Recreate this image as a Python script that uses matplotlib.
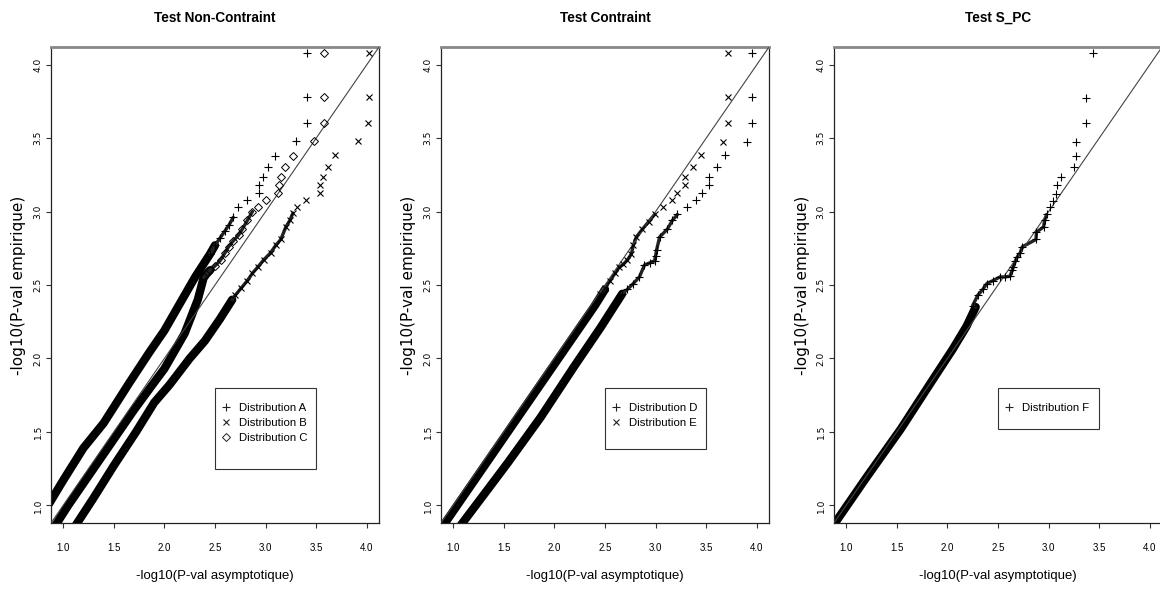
import matplotlib
matplotlib.use('Agg')
import matplotlib.pyplot as plt
from matplotlib import font_manager
from matplotlib.patches import Rectangle
from matplotlib.lines import Line2D

# ---------------- data ----------------
titles = ["Test Non-Contraint", "Test Contraint", "Test S_PC"]
x_label = "-log10(P-val asymptotique)"
y_label = "-log10(P-val empirique)"
tick_values = [1.0, 1.5, 2.0, 2.5, 3.0, 3.5, 4.0]
tick_labels = ["1.0", "1.5", "2.0", "2.5", "3.0", "3.5", "4.0"]

# Panel 1 -- Distribution A (+), upper band
a_band_x = [0.86, 1.00, 1.20, 1.40, 1.65, 1.85, 2.00, 2.15, 2.30, 2.45, 2.50]
a_band_y = [1.01, 1.17, 1.39, 1.56, 1.83, 2.04, 2.19, 2.37, 2.55, 2.71, 2.77]
a_pts_x = [2.45, 2.50, 2.55, 2.60, 2.64, 2.68, 2.73, 2.82, 2.93, 2.93, 2.97, 3.02, 3.09, 3.30, 3.41, 3.41, 3.41]
a_pts_y = [2.71, 2.77, 2.82, 2.87, 2.91, 2.96, 3.03, 3.08, 3.125, 3.18, 3.235, 3.30, 3.38, 3.48, 3.60, 3.78, 4.08]

# Panel 1 -- Distribution B (x), lower band
b_band_x = [1.12, 1.30, 1.50, 1.72, 1.90, 2.05, 2.25, 2.40, 2.55, 2.67]
b_band_y = [0.86, 1.05, 1.27, 1.50, 1.70, 1.82, 2.00, 2.12, 2.27, 2.40]
b_pts_x = [2.70, 2.76, 2.82, 2.87, 2.92, 2.98, 3.05, 3.10, 3.15, 3.20, 3.24, 3.27, 3.31, 3.40,
           3.54, 3.54, 3.565, 3.615, 3.685, 3.91, 4.01, 4.02, 4.02]
b_pts_y = [2.43, 2.48, 2.53, 2.58, 2.62, 2.67, 2.72, 2.77, 2.81, 2.895, 2.94, 2.99, 3.03, 3.08,
           3.125, 3.18, 3.235, 3.30, 3.385, 3.48, 3.60, 3.78, 4.08]

# Panel 1 -- Distribution C (diamond), middle band
c_band_x = [0.92, 1.05, 1.31, 1.54, 1.70, 1.87, 2.00, 2.20, 2.33, 2.39, 2.45]
c_band_y = [0.86, 1.00, 1.26, 1.49, 1.65, 1.81, 1.93, 2.17, 2.40, 2.555, 2.60]
c_pts_x = [2.39, 2.45, 2.50, 2.555, 2.60, 2.634, 2.68, 2.733, 2.77, 2.82, 2.87, 2.92, 3.00,
           3.12, 3.13, 3.15, 3.19, 3.27, 3.477, 3.576, 3.576, 3.576]
c_pts_y = [2.555, 2.60, 2.63, 2.67, 2.72, 2.76, 2.80, 2.84, 2.88, 2.94, 3.00, 3.03, 3.08,
           3.125, 3.18, 3.235, 3.30, 3.38, 3.48, 3.60, 3.78, 4.08]

# Panel 2 -- Distribution D (+), lower band
d_band_x = [1.07, 1.30, 1.54, 1.865, 2.19, 2.456, 2.67]
d_band_y = [0.86, 1.07, 1.29, 1.60, 1.94, 2.21, 2.44]
d_pts_x = [2.67, 2.72, 2.78, 2.84, 2.89, 2.94, 2.99, 3.00, 3.01, 3.04, 3.116, 3.166, 3.215, 3.31, 3.40,
           3.46, 3.53, 3.53, 3.61, 3.69, 3.905, 3.95, 3.954, 3.954]
d_pts_y = [2.44, 2.47, 2.51, 2.555, 2.636, 2.65, 2.665, 2.70, 2.74, 2.827, 2.88, 2.94, 2.98, 3.03, 3.08,
           3.125, 3.18, 3.235, 3.30, 3.385, 3.47, 3.60, 3.78, 4.08]

# Panel 2 -- Distribution E (x), band near the diagonal
e_band_x = [0.90, 1.20, 1.50, 1.80, 2.10, 2.40, 2.50]
e_band_y = [0.86, 1.16, 1.46, 1.76, 2.06, 2.36, 2.47]
e_pts_x = [2.45, 2.50, 2.55, 2.60, 2.64, 2.68, 2.72, 2.76, 2.78, 2.81, 2.87, 2.93, 2.99, 3.077,
           3.166, 3.215, 3.295, 3.295, 3.37, 3.45, 3.668, 3.717, 3.717, 3.717]
e_pts_y = [2.44, 2.48, 2.53, 2.58, 2.62, 2.64, 2.67, 2.71, 2.77, 2.827, 2.88, 2.93, 2.98, 3.03,
           3.08, 3.125, 3.18, 3.235, 3.30, 3.385, 3.47, 3.60, 3.78, 4.08]

# Panel 3 -- Distribution F (+)
f_band_x = [0.87, 1.20, 1.54, 1.86, 2.05, 2.19, 2.28]
f_band_y = [0.86, 1.19, 1.52, 1.86, 2.06, 2.22, 2.35]
f_pts_x = [2.25, 2.30, 2.35, 2.39, 2.45, 2.52, 2.57, 2.62, 2.64, 2.65, 2.67, 2.69, 2.72, 2.74,
           2.875, 2.88, 2.95, 2.96, 2.98, 3.01, 3.04, 3.07, 3.08, 3.12, 3.25, 3.27, 3.27, 3.37,
           3.37, 3.437]
f_pts_y = [2.36, 2.43, 2.47, 2.51, 2.53, 2.555, 2.555, 2.56, 2.60, 2.62, 2.66, 2.69, 2.72, 2.76,
           2.81, 2.86, 2.895, 2.94, 2.98, 3.03, 3.07, 3.12, 3.18, 3.235, 3.30, 3.38, 3.47, 3.60,
           3.77, 4.08]

panels = [
    [("Distribution A", "+", a_band_x, a_band_y, a_pts_x, a_pts_y),
     ("Distribution B", "x", b_band_x, b_band_y, b_pts_x, b_pts_y),
     ("Distribution C", "D", c_band_x, c_band_y, c_pts_x, c_pts_y)],
    [("Distribution D", "+", d_band_x, d_band_y, d_pts_x, d_pts_y),
     ("Distribution E", "x", e_band_x, e_band_y, e_pts_x, e_pts_y)],
    [("Distribution F", "+", f_band_x, f_band_y, f_pts_x, f_pts_y)],
]

# ---------------- style ----------------
names = {f.name for f in font_manager.fontManager.ttflist}
if 'Liberation Sans Narrow' in names:
    FAM = ['Liberation Sans Narrow', 'DejaVu Sans']
    sc = 1.0
else:
    FAM = ['Liberation Sans', 'DejaVu Sans']
    sc = 0.82
plt.rcParams['font.family'] = FAM

W, H = 1160, 589
fig = plt.figure(figsize=(W / 100, H / 100), dpi=100)
lefts = [51, 441, 834]
AX_W, AX_H, AX_B = 328, 476, 523
LIM = (0.88, 4.12)
pxu_x = AX_W / (LIM[1] - LIM[0])
pxu_y = AX_H / (LIM[1] - LIM[0])
CHAIN_TOP = 3.0   # points below this level overlap into a dark chain

mstyle = {"+": dict(ms=5.5, mew=0.8), "x": dict(ms=4.3, mew=0.8), "D": dict(ms=4.0, mew=0.7)}

for i, (left, title, series) in enumerate(zip(lefts, titles, panels)):
    ax = fig.add_axes([left / W, 1 - AX_B / H, AX_W / W, AX_H / H])
    ax.set_xlim(*LIM)
    ax.set_ylim(*LIM)
    ax.axline((1.0, 1.0), slope=1, color='#444444', lw=0.8, zorder=3)
    handles = []
    for label, m, bx, by, qx, qy in series:
        ax.plot(bx, by, color='black', lw=6.0, solid_capstyle='round',
                solid_joinstyle='round', zorder=2)
        cx = [x for x, y in zip(qx, qy) if y <= CHAIN_TOP]
        cy = [y for y in qy if y <= CHAIN_TOP]
        ax.plot([bx[-1]] + cx, [by[-1]] + cy, color='#222222', lw=2.4,
                solid_capstyle='round', zorder=2)
        ax.plot(qx, qy, ls='none', marker=m, mfc='none', mec='black', zorder=4, **mstyle[m])
        handles.append(Line2D([], [], ls='none', marker=m, mfc='none', mec='#222222',
                              **mstyle[m]))
    # legend box (top-left at x=2.5, y=1.8)
    n = len(series)
    box_h = (20 * n + 21) / pxu_y
    ax.add_patch(Rectangle((2.5, 1.8 - box_h), 101 / pxu_x, box_h, fill=False,
                           ec='#333333', lw=0.8, zorder=5))
    ax.legend(handles, [s[0] for s in series], loc='upper left',
              bbox_to_anchor=(2.5 + 5 / pxu_x, 1.8 - 15 / pxu_y), bbox_transform=ax.transData,
              frameon=False, borderpad=0, borderaxespad=0, handlelength=1.0,
              handletextpad=0.65, labelspacing=0.45, prop={'family': FAM, 'size': 10 * sc})

    ax.set_xticks(tick_values)
    ax.set_xticklabels(tick_labels, fontsize=7)
    ax.set_yticks(tick_values)
    ax.set_yticklabels(tick_labels, fontsize=6.5, family='DejaVu Sans', rotation=90, va='center')
    ax.tick_params(axis='both', direction='out', length=3.6, width=0.8, color='#333333')
    ax.tick_params(axis='x', pad=11)
    ax.tick_params(axis='y', pad=2.5)
    for s in ['left', 'bottom', 'right']:
        ax.spines[s].set_linewidth(0.9)
        ax.spines[s].set_color('#222222')
    ax.spines['top'].set_linewidth(2.0)
    ax.spines['top'].set_color('#888888')

    ax.set_xlabel(x_label, fontsize=11.5 * sc)
    ax.xaxis.set_label_coords(0.5, -(576 - AX_B) / AX_H)
    ax.xaxis.label.set_va('center')
    ax.set_ylabel(y_label, fontsize=11, family='DejaVu Sans')
    ax.yaxis.set_label_coords(-(32) / AX_W, 0.5)
    ax.yaxis.label.set_va('center')
    ax.set_title(title, fontsize=12 * sc, fontweight='bold', y=1 + 29 / AX_H, va='center', pad=0)

fig.savefig('out.png', dpi=100)
